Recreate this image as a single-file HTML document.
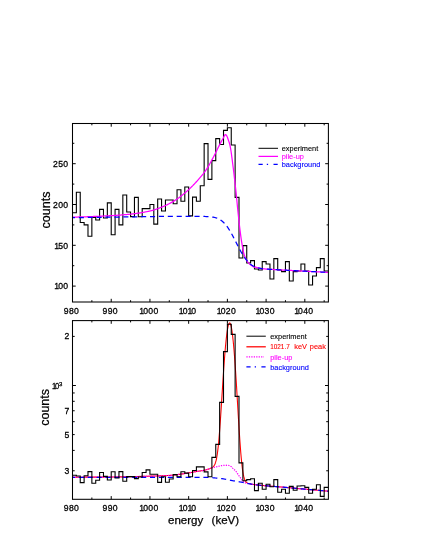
<!DOCTYPE html><html><head><meta charset="utf-8"><style>html,body{margin:0;padding:0;background:#fff}svg{display:block}text{font-family:"Liberation Sans",sans-serif}</style></head><body>
<svg width="425" height="550" viewBox="0 0 425 550">
<rect width="425" height="550" fill="#fff"/>
<defs><clipPath id="ct"><rect x="72.5" y="123.5" width="255.90" height="178.50"/></clipPath><clipPath id="cb"><rect x="72.5" y="320.6" width="255.90" height="178.70"/></clipPath></defs>
<g clip-path="url(#ct)" fill="none">
<path d="M72.50,204.50H76.37V192.26H80.24V222.45H84.12V224.90H87.99V236.32H91.86V217.56H95.73V220.00H99.60V209.40H103.48V217.96H107.35V202.87H111.22V234.69H115.09V209.40H118.96V224.90H122.84V195.03H126.71V212.01H130.58V216.58H134.45V197.40H138.32V216.74H142.20V208.58H146.07V208.58H149.94V204.50H153.81V224.08H157.68V199.03H161.56V211.03H165.43V200.01H169.30V200.01H173.17V203.68H177.04V189.81H180.92V201.24H184.79V187.04H188.66V215.92H192.53V197.16H196.40V201.24H200.28V185.73H204.15V143.63H208.02V179.37H211.89V160.60H215.76V138.65H219.64V144.44H223.51V130.41H227.38V127.80H231.25V144.93H235.12V197.40H239.00V258.03H242.87V245.63H246.74V263.01H250.61V260.64H254.48V268.96H258.36V270.02H262.23V261.62H266.10V264.07H269.97V279.00H273.84V258.60H277.72V270.02H281.59V271.58H285.46V261.62H289.33V281.04H293.20V271.58H297.08V271.00H300.95V264.07H304.82V271.00H308.69V285.04H312.56V275.98H316.44V267.58H320.31V258.60H324.18V271.00H328.40M72.50,212.82H76.37V204.50" stroke="#000" stroke-width="1.1" stroke-linejoin="miter"/>
<path d="M72.50,217.10 L72.93,217.09 L73.35,217.09 L73.78,217.08 L74.21,217.08 L74.64,217.07 L75.06,217.06 L75.49,217.05 L75.92,217.05 L76.34,217.04 L76.77,217.03 L77.20,217.02 L77.63,217.01 L78.05,217.00 L78.48,216.99 L78.91,216.98 L79.34,216.97 L79.76,216.96 L80.19,216.95 L80.62,216.94 L81.04,216.93 L81.47,216.92 L81.90,216.90 L82.33,216.89 L82.75,216.88 L83.18,216.87 L83.61,216.85 L84.03,216.84 L84.46,216.83 L84.89,216.81 L85.32,216.80 L85.74,216.78 L86.17,216.77 L86.60,216.76 L87.03,216.74 L87.45,216.73 L87.88,216.71 L88.31,216.69 L88.73,216.68 L89.16,216.66 L89.59,216.65 L90.02,216.63 L90.44,216.61 L90.87,216.60 L91.30,216.58 L91.72,216.56 L92.15,216.55 L92.58,216.53 L93.01,216.51 L93.43,216.49 L93.86,216.47 L94.29,216.46 L94.72,216.44 L95.14,216.42 L95.57,216.40 L96.00,216.38 L96.42,216.36 L96.85,216.34 L97.28,216.32 L97.71,216.30 L98.13,216.29 L98.56,216.27 L98.99,216.25 L99.41,216.23 L99.84,216.21 L100.27,216.19 L100.70,216.17 L101.12,216.14 L101.55,216.12 L101.98,216.10 L102.40,216.08 L102.83,216.06 L103.26,216.04 L103.69,216.02 L104.11,216.00 L104.54,215.98 L104.97,215.96 L105.40,215.93 L105.82,215.91 L106.25,215.89 L106.68,215.87 L107.10,215.85 L107.53,215.83 L107.96,215.80 L108.39,215.78 L108.81,215.76 L109.24,215.74 L109.67,215.72 L110.09,215.70 L110.52,215.67 L110.95,215.65 L111.38,215.63 L111.80,215.60 L112.23,215.58 L112.66,215.56 L113.09,215.53 L113.51,215.51 L113.94,215.48 L114.37,215.46 L114.79,215.43 L115.22,215.40 L115.65,215.38 L116.08,215.35 L116.50,215.32 L116.93,215.29 L117.36,215.26 L117.78,215.23 L118.21,215.20 L118.64,215.17 L119.07,215.14 L119.49,215.11 L119.92,215.08 L120.35,215.05 L120.77,215.02 L121.20,214.99 L121.63,214.95 L122.06,214.92 L122.48,214.88 L122.91,214.85 L123.34,214.81 L123.77,214.78 L124.19,214.74 L124.62,214.71 L125.05,214.67 L125.47,214.63 L125.90,214.59 L126.33,214.55 L126.76,214.52 L127.18,214.48 L127.61,214.44 L128.04,214.39 L128.46,214.35 L128.89,214.31 L129.32,214.27 L129.75,214.23 L130.17,214.18 L130.60,214.14 L131.03,214.09 L131.46,214.05 L131.88,214.00 L132.31,213.95 L132.74,213.90 L133.16,213.85 L133.59,213.80 L134.02,213.75 L134.45,213.69 L134.87,213.64 L135.30,213.58 L135.73,213.53 L136.15,213.47 L136.58,213.41 L137.01,213.35 L137.44,213.29 L137.86,213.23 L138.29,213.16 L138.72,213.10 L139.15,213.04 L139.57,212.97 L140.00,212.90 L140.43,212.83 L140.85,212.76 L141.28,212.69 L141.71,212.62 L142.14,212.55 L142.56,212.47 L142.99,212.40 L143.42,212.32 L143.84,212.25 L144.27,212.17 L144.70,212.09 L145.13,212.01 L145.55,211.92 L145.98,211.84 L146.41,211.76 L146.83,211.67 L147.26,211.58 L147.69,211.50 L148.12,211.41 L148.54,211.32 L148.97,211.23 L149.40,211.13 L149.83,211.04 L150.25,210.94 L150.68,210.84 L151.11,210.74 L151.53,210.63 L151.96,210.52 L152.39,210.40 L152.82,210.28 L153.24,210.15 L153.67,210.02 L154.10,209.89 L154.52,209.76 L154.95,209.62 L155.38,209.48 L155.81,209.33 L156.23,209.19 L156.66,209.04 L157.09,208.88 L157.52,208.73 L157.94,208.57 L158.37,208.41 L158.80,208.25 L159.22,208.09 L159.65,207.93 L160.08,207.76 L160.51,207.59 L160.93,207.42 L161.36,207.26 L161.79,207.08 L162.21,206.91 L162.64,206.74 L163.07,206.56 L163.50,206.38 L163.92,206.20 L164.35,206.01 L164.78,205.82 L165.21,205.63 L165.63,205.44 L166.06,205.24 L166.49,205.04 L166.91,204.83 L167.34,204.63 L167.77,204.42 L168.20,204.20 L168.62,203.99 L169.05,203.77 L169.48,203.54 L169.90,203.32 L170.33,203.09 L170.76,202.86 L171.19,202.62 L171.61,202.38 L172.04,202.14 L172.47,201.90 L172.89,201.65 L173.32,201.40 L173.75,201.15 L174.18,200.89 L174.60,200.63 L175.03,200.36 L175.46,200.09 L175.89,199.81 L176.31,199.53 L176.74,199.24 L177.17,198.95 L177.59,198.65 L178.02,198.35 L178.45,198.04 L178.88,197.73 L179.30,197.41 L179.73,197.09 L180.16,196.77 L180.58,196.44 L181.01,196.11 L181.44,195.77 L181.87,195.43 L182.29,195.09 L182.72,194.74 L183.15,194.39 L183.58,194.04 L184.00,193.69 L184.43,193.33 L184.86,192.97 L185.28,192.61 L185.71,192.25 L186.14,191.88 L186.57,191.51 L186.99,191.14 L187.42,190.76 L187.85,190.37 L188.27,189.98 L188.70,189.59 L189.13,189.19 L189.56,188.78 L189.98,188.38 L190.41,187.96 L190.84,187.55 L191.26,187.13 L191.69,186.70 L192.12,186.27 L192.55,185.84 L192.97,185.40 L193.40,184.96 L193.83,184.52 L194.26,184.07 L194.68,183.62 L195.11,183.16 L195.54,182.71 L195.96,182.24 L196.39,181.78 L196.82,181.31 L197.25,180.84 L197.67,180.37 L198.10,179.89 L198.53,179.41 L198.95,178.92 L199.38,178.44 L199.81,177.95 L200.24,177.45 L200.66,176.95 L201.09,176.44 L201.52,175.93 L201.95,175.41 L202.37,174.88 L202.80,174.34 L203.23,173.80 L203.65,173.24 L204.08,172.68 L204.51,172.10 L204.94,171.51 L205.36,170.91 L205.79,170.30 L206.22,169.68 L206.64,169.04 L207.07,168.37 L207.50,167.69 L207.93,167.00 L208.35,166.28 L208.78,165.56 L209.21,164.82 L209.64,164.06 L210.06,163.30 L210.49,162.53 L210.92,161.75 L211.34,160.97 L211.77,160.17 L212.20,159.38 L212.63,158.58 L213.05,157.78 L213.48,156.98 L213.91,156.17 L214.33,155.37 L214.76,154.54 L215.19,153.70 L215.62,152.84 L216.04,151.97 L216.47,151.10 L216.90,150.22 L217.32,149.34 L217.75,148.46 L218.18,147.59 L218.61,146.72 L219.03,145.87 L219.46,145.03 L219.89,144.21 L220.32,143.41 L220.74,142.62 L221.17,141.84 L221.60,141.07 L222.02,140.31 L222.45,139.55 L222.88,138.81 L223.31,138.02 L223.73,137.10 L224.16,136.16 L224.59,135.35 L225.01,134.79 L225.44,134.60 L225.87,134.80 L226.30,135.23 L226.72,135.77 L227.15,136.65 L227.58,137.80 L228.01,139.01 L228.43,140.20 L228.86,141.43 L229.29,142.79 L229.71,144.33 L230.14,146.14 L230.57,148.37 L231.00,151.00 L231.42,153.94 L231.85,157.10 L232.28,160.39 L232.70,163.72 L233.13,167.01 L233.56,170.41 L233.99,173.95 L234.41,177.61 L234.84,181.38 L235.27,185.24 L235.69,189.16 L236.12,193.15 L236.55,197.36 L236.98,201.72 L237.40,206.11 L237.83,210.38 L238.26,214.45 L238.69,218.48 L239.11,222.43 L239.54,226.20 L239.97,229.74 L240.39,233.06 L240.82,236.23 L241.25,239.24 L241.68,242.04 L242.10,244.60 L242.53,247.07 L242.96,249.42 L243.38,251.55 L243.81,253.34 L244.24,254.76 L244.67,256.03 L245.09,257.18 L245.52,258.22 L245.95,259.15 L246.38,259.97 L246.80,260.70 L247.23,261.33 L247.66,261.91 L248.08,262.45 L248.51,262.95 L248.94,263.41 L249.37,263.84 L249.79,264.23 L250.22,264.60 L250.65,264.94 L251.07,265.25 L251.50,265.56 L251.93,265.85 L252.36,266.12 L252.78,266.39 L253.21,266.63 L253.64,266.85 L254.07,267.05 L254.49,267.23 L254.92,267.38 L255.35,266.96 L255.77,267.13 L256.20,267.28 L256.63,267.43 L257.06,267.57 L257.48,267.69 L257.91,267.81 L258.34,267.92 L258.76,268.03 L259.19,268.12 L259.62,268.21 L260.05,268.30 L260.47,268.38 L260.90,268.45 L261.33,268.52 L261.75,268.58 L262.18,268.64 L262.61,268.70 L263.04,268.75 L263.46,268.80 L263.89,268.85 L264.32,268.90 L264.75,268.94 L265.17,268.98 L265.60,269.02 L266.03,269.05 L266.45,269.09 L266.88,269.12 L267.31,269.15 L267.74,269.18 L268.16,269.21 L268.59,269.24 L269.02,269.27 L269.44,269.30 L269.87,269.33 L270.30,269.35 L270.73,269.38 L271.15,269.40 L271.58,269.43 L272.01,269.45 L272.44,269.48 L272.86,269.50 L273.29,269.53 L273.72,269.55 L274.14,269.57 L274.57,269.60 L275.00,269.62 L275.43,269.64 L275.85,269.66 L276.28,269.69 L276.71,269.71 L277.13,269.73 L277.56,269.76 L277.99,269.78 L278.42,269.80 L278.84,269.82 L279.27,269.85 L279.70,269.87 L280.13,269.89 L280.55,269.91 L280.98,269.93 L281.41,269.96 L281.83,269.98 L282.26,270.00 L282.69,270.02 L283.12,270.05 L283.54,270.07 L283.97,270.09 L284.40,270.11 L284.82,270.14 L285.25,270.16 L285.68,270.18 L286.11,270.20 L286.53,270.22 L286.96,270.25 L287.39,270.27 L287.81,270.29 L288.24,270.31 L288.67,270.34 L289.10,270.36 L289.52,270.38 L289.95,270.40 L290.38,270.42 L290.81,270.45 L291.23,270.47 L291.66,270.49 L292.09,270.51 L292.51,270.54 L292.94,270.56 L293.37,270.58 L293.80,270.60 L294.22,270.62 L294.65,270.65 L295.08,270.67 L295.50,270.69 L295.93,270.71 L296.36,270.74 L296.79,270.76 L297.21,270.78 L297.64,270.80 L298.07,270.82 L298.50,270.85 L298.92,270.87 L299.35,270.89 L299.78,270.91 L300.20,270.94 L300.63,270.96 L301.06,270.98 L301.49,271.00 L301.91,271.02 L302.34,271.05 L302.77,271.07 L303.19,271.09 L303.62,271.11 L304.05,271.14 L304.48,271.16 L304.90,271.18 L305.33,271.20 L305.76,271.22 L306.18,271.25 L306.61,271.27 L307.04,271.29 L307.47,271.31 L307.89,271.34 L308.32,271.36 L308.75,271.38 L309.18,271.40 L309.60,271.43 L310.03,271.45 L310.46,271.47 L310.88,271.49 L311.31,271.51 L311.74,271.54 L312.17,271.56 L312.59,271.58 L313.02,271.60 L313.45,271.63 L313.87,271.65 L314.30,271.67 L314.73,271.69 L315.16,271.71 L315.58,271.74 L316.01,271.76 L316.44,271.78 L316.87,271.80 L317.29,271.83 L317.72,271.85 L318.15,271.87 L318.57,271.89 L319.00,271.91 L319.43,271.94 L319.86,271.96 L320.28,271.98 L320.71,272.00 L321.14,272.03 L321.56,272.05 L321.99,272.07 L322.42,272.09 L322.85,272.11 L323.27,272.14 L323.70,272.16 L324.13,272.18 L324.56,272.20 L324.98,272.23 L325.41,272.25 L325.84,272.27 L326.26,272.29 L326.69,272.31 L327.12,272.34 L327.55,272.36 L327.97,272.38 L328.40,272.40" stroke="#ff00ff" stroke-width="1.25"/>
<path d="M72.50,217.72 L72.93,217.71 L73.35,217.71 L73.78,217.70 L74.21,217.69 L74.64,217.69 L75.06,217.68 L75.49,217.68 L75.92,217.67 L76.34,217.66 L76.77,217.66 L77.20,217.65 L77.63,217.64 L78.05,217.64 L78.48,217.63 L78.91,217.62 L79.34,217.62 L79.76,217.61 L80.19,217.61 L80.62,217.60 L81.04,217.59 L81.47,217.59 L81.90,217.58 L82.33,217.57 L82.75,217.57 L83.18,217.56 L83.61,217.56 L84.03,217.55 L84.46,217.54 L84.89,217.54 L85.32,217.53 L85.74,217.52 L86.17,217.52 L86.60,217.51 L87.03,217.50 L87.45,217.50 L87.88,217.49 L88.31,217.49 L88.73,217.48 L89.16,217.47 L89.59,217.47 L90.02,217.46 L90.44,217.45 L90.87,217.45 L91.30,217.44 L91.72,217.44 L92.15,217.43 L92.58,217.42 L93.01,217.42 L93.43,217.41 L93.86,217.40 L94.29,217.40 L94.72,217.39 L95.14,217.39 L95.57,217.38 L96.00,217.37 L96.42,217.37 L96.85,217.36 L97.28,217.35 L97.71,217.35 L98.13,217.34 L98.56,217.33 L98.99,217.33 L99.41,217.32 L99.84,217.32 L100.27,217.31 L100.70,217.30 L101.12,217.30 L101.55,217.29 L101.98,217.28 L102.40,217.28 L102.83,217.27 L103.26,217.27 L103.69,217.26 L104.11,217.25 L104.54,217.25 L104.97,217.24 L105.40,217.23 L105.82,217.23 L106.25,217.22 L106.68,217.22 L107.10,217.21 L107.53,217.20 L107.96,217.20 L108.39,217.19 L108.81,217.18 L109.24,217.18 L109.67,217.17 L110.09,217.16 L110.52,217.16 L110.95,217.15 L111.38,217.15 L111.80,217.14 L112.23,217.13 L112.66,217.13 L113.09,217.12 L113.51,217.11 L113.94,217.11 L114.37,217.10 L114.79,217.10 L115.22,217.09 L115.65,217.08 L116.08,217.08 L116.50,217.07 L116.93,217.06 L117.36,217.06 L117.78,217.05 L118.21,217.04 L118.64,217.04 L119.07,217.03 L119.49,217.03 L119.92,217.02 L120.35,217.01 L120.77,217.01 L121.20,217.00 L121.63,216.99 L122.06,216.99 L122.48,216.98 L122.91,216.98 L123.34,216.97 L123.77,216.96 L124.19,216.96 L124.62,216.95 L125.05,216.94 L125.47,216.94 L125.90,216.93 L126.33,216.93 L126.76,216.92 L127.18,216.91 L127.61,216.91 L128.04,216.90 L128.46,216.89 L128.89,216.89 L129.32,216.88 L129.75,216.87 L130.17,216.87 L130.60,216.86 L131.03,216.86 L131.46,216.85 L131.88,216.84 L132.31,216.84 L132.74,216.83 L133.16,216.82 L133.59,216.82 L134.02,216.81 L134.45,216.81 L134.87,216.80 L135.30,216.79 L135.73,216.79 L136.15,216.78 L136.58,216.77 L137.01,216.77 L137.44,216.76 L137.86,216.75 L138.29,216.75 L138.72,216.74 L139.15,216.74 L139.57,216.73 L140.00,216.72 L140.43,216.72 L140.85,216.71 L141.28,216.70 L141.71,216.70 L142.14,216.69 L142.56,216.69 L142.99,216.68 L143.42,216.67 L143.84,216.67 L144.27,216.66 L144.70,216.65 L145.13,216.65 L145.55,216.64 L145.98,216.64 L146.41,216.63 L146.83,216.62 L147.26,216.62 L147.69,216.61 L148.12,216.60 L148.54,216.60 L148.97,216.59 L149.40,216.58 L149.83,216.58 L150.25,216.57 L150.68,216.57 L151.11,216.56 L151.53,216.55 L151.96,216.55 L152.39,216.54 L152.82,216.53 L153.24,216.53 L153.67,216.52 L154.10,216.52 L154.52,216.51 L154.95,216.50 L155.38,216.50 L155.81,216.49 L156.23,216.48 L156.66,216.48 L157.09,216.47 L157.52,216.47 L157.94,216.46 L158.37,216.45 L158.80,216.45 L159.22,216.44 L159.65,216.43 L160.08,216.43 L160.51,216.42 L160.93,216.41 L161.36,216.41 L161.79,216.41 L162.21,216.41 L162.64,216.41 L163.07,216.41 L163.50,216.41 L163.92,216.41 L164.35,216.41 L164.78,216.41 L165.21,216.41 L165.63,216.41 L166.06,216.41 L166.49,216.41 L166.91,216.41 L167.34,216.41 L167.77,216.41 L168.20,216.41 L168.62,216.41 L169.05,216.41 L169.48,216.41 L169.90,216.41 L170.33,216.41 L170.76,216.41 L171.19,216.41 L171.61,216.41 L172.04,216.41 L172.47,216.41 L172.89,216.41 L173.32,216.41 L173.75,216.41 L174.18,216.41 L174.60,216.41 L175.03,216.41 L175.46,216.41 L175.89,216.41 L176.31,216.41 L176.74,216.41 L177.17,216.41 L177.59,216.41 L178.02,216.41 L178.45,216.41 L178.88,216.41 L179.30,216.41 L179.73,216.41 L180.16,216.41 L180.58,216.41 L181.01,216.41 L181.44,216.41 L181.87,216.41 L182.29,216.41 L182.72,216.41 L183.15,216.41 L183.58,216.41 L184.00,216.41 L184.43,216.41 L184.86,216.41 L185.28,216.41 L185.71,216.41 L186.14,216.41 L186.57,216.41 L186.99,216.41 L187.42,216.41 L187.85,216.41 L188.27,216.41 L188.70,216.41 L189.13,216.41 L189.56,216.41 L189.98,216.41 L190.41,216.41 L190.84,216.41 L191.26,216.41 L191.69,216.41 L192.12,216.41 L192.55,216.41 L192.97,216.41 L193.40,216.41 L193.83,216.42 L194.26,216.42 L194.68,216.42 L195.11,216.42 L195.54,216.42 L195.96,216.42 L196.39,216.42 L196.82,216.42 L197.25,216.42 L197.67,216.42 L198.10,216.42 L198.53,216.42 L198.95,216.42 L199.38,216.43 L199.81,216.43 L200.24,216.43 L200.66,216.43 L201.09,216.44 L201.52,216.44 L201.95,216.44 L202.37,216.45 L202.80,216.45 L203.23,216.46 L203.65,216.46 L204.08,216.47 L204.51,216.48 L204.94,216.49 L205.36,216.50 L205.79,216.51 L206.22,216.53 L206.64,216.54 L207.07,216.56 L207.50,216.58 L207.93,216.60 L208.35,216.62 L208.78,216.65 L209.21,216.68 L209.64,216.71 L210.06,216.75 L210.49,216.79 L210.92,216.83 L211.34,216.88 L211.77,216.94 L212.20,217.00 L212.63,217.06 L213.05,217.14 L213.48,217.21 L213.91,217.30 L214.33,217.39 L214.76,217.50 L215.19,217.61 L215.62,217.73 L216.04,217.86 L216.47,218.00 L216.90,218.15 L217.32,218.31 L217.75,218.49 L218.18,218.68 L218.61,218.88 L219.03,219.10 L219.46,219.33 L219.89,219.58 L220.32,219.84 L220.74,220.12 L221.17,220.42 L221.60,220.73 L222.02,221.07 L222.45,221.42 L222.88,221.79 L223.31,222.18 L223.73,222.59 L224.16,223.03 L224.59,223.48 L225.01,223.95 L225.44,224.44 L225.87,224.96 L226.30,225.49 L226.72,226.05 L227.15,226.63 L227.58,227.22 L228.01,227.84 L228.43,228.48 L228.86,229.14 L229.29,229.81 L229.71,230.50 L230.14,231.21 L230.57,231.94 L231.00,232.68 L231.42,233.44 L231.85,234.21 L232.28,235.00 L232.70,235.80 L233.13,236.60 L233.56,237.42 L233.99,238.24 L234.41,239.08 L234.84,239.91 L235.27,240.75 L235.69,241.60 L236.12,242.44 L236.55,243.29 L236.98,244.13 L237.40,244.97 L237.83,245.81 L238.26,246.64 L238.69,247.47 L239.11,248.28 L239.54,249.09 L239.97,249.89 L240.39,250.67 L240.82,251.45 L241.25,252.20 L241.68,252.95 L242.10,253.68 L242.53,254.39 L242.96,255.08 L243.38,255.76 L243.81,256.42 L244.24,257.06 L244.67,257.68 L245.09,258.28 L245.52,258.86 L245.95,259.42 L246.38,259.96 L246.80,260.47 L247.23,260.97 L247.66,261.45 L248.08,261.91 L248.51,262.35 L248.94,262.76 L249.37,263.16 L249.79,263.54 L250.22,263.90 L250.65,264.24 L251.07,264.57 L251.50,264.88 L251.93,265.17 L252.36,265.44 L252.78,265.70 L253.21,265.95 L253.64,266.17 L254.07,266.39 L254.49,266.59 L254.92,266.78 L255.35,266.96 L255.77,267.13 L256.20,267.28 L256.63,267.43 L257.06,267.57 L257.48,267.69 L257.91,267.81 L258.34,267.92 L258.76,268.03 L259.19,268.12 L259.62,268.21 L260.05,268.30 L260.47,268.38 L260.90,268.45 L261.33,268.52 L261.75,268.58 L262.18,268.64 L262.61,268.70 L263.04,268.75 L263.46,268.80 L263.89,268.85 L264.32,268.90 L264.75,268.94 L265.17,268.98 L265.60,269.02 L266.03,269.05 L266.45,269.09 L266.88,269.12 L267.31,269.15 L267.74,269.18 L268.16,269.21 L268.59,269.24 L269.02,269.27 L269.44,269.30 L269.87,269.33 L270.30,269.35 L270.73,269.38 L271.15,269.40 L271.58,269.43 L272.01,269.45 L272.44,269.48 L272.86,269.50 L273.29,269.53 L273.72,269.55 L274.14,269.57 L274.57,269.60 L275.00,269.62 L275.43,269.64 L275.85,269.66 L276.28,269.69 L276.71,269.71 L277.13,269.73 L277.56,269.76 L277.99,269.78 L278.42,269.80 L278.84,269.82 L279.27,269.85 L279.70,269.87 L280.13,269.89 L280.55,269.91 L280.98,269.93 L281.41,269.96 L281.83,269.98 L282.26,270.00 L282.69,270.02 L283.12,270.05 L283.54,270.07 L283.97,270.09 L284.40,270.11 L284.82,270.14 L285.25,270.16 L285.68,270.18 L286.11,270.20 L286.53,270.22 L286.96,270.25 L287.39,270.27 L287.81,270.29 L288.24,270.31 L288.67,270.34 L289.10,270.36 L289.52,270.38 L289.95,270.40 L290.38,270.42 L290.81,270.45 L291.23,270.47 L291.66,270.49 L292.09,270.51 L292.51,270.54 L292.94,270.56 L293.37,270.58 L293.80,270.60 L294.22,270.62 L294.65,270.65 L295.08,270.67 L295.50,270.69 L295.93,270.71 L296.36,270.74 L296.79,270.76 L297.21,270.78 L297.64,270.80 L298.07,270.82 L298.50,270.85 L298.92,270.87 L299.35,270.89 L299.78,270.91 L300.20,270.94 L300.63,270.96 L301.06,270.98 L301.49,271.00 L301.91,271.02 L302.34,271.05 L302.77,271.07 L303.19,271.09 L303.62,271.11 L304.05,271.14 L304.48,271.16 L304.90,271.18 L305.33,271.20 L305.76,271.22 L306.18,271.25 L306.61,271.27 L307.04,271.29 L307.47,271.31 L307.89,271.34 L308.32,271.36 L308.75,271.38 L309.18,271.40 L309.60,271.43 L310.03,271.45 L310.46,271.47 L310.88,271.49 L311.31,271.51 L311.74,271.54 L312.17,271.56 L312.59,271.58 L313.02,271.60 L313.45,271.63 L313.87,271.65 L314.30,271.67 L314.73,271.69 L315.16,271.71 L315.58,271.74 L316.01,271.76 L316.44,271.78 L316.87,271.80 L317.29,271.83 L317.72,271.85 L318.15,271.87 L318.57,271.89 L319.00,271.91 L319.43,271.94 L319.86,271.96 L320.28,271.98 L320.71,272.00 L321.14,272.03 L321.56,272.05 L321.99,272.07 L322.42,272.09 L322.85,272.11 L323.27,272.14 L323.70,272.16 L324.13,272.18 L324.56,272.20 L324.98,272.23 L325.41,272.25 L325.84,272.27 L326.26,272.29 L326.69,272.31 L327.12,272.34 L327.55,272.36 L327.97,272.38 L328.40,272.40" stroke="#0000ff" stroke-width="1.25" stroke-dasharray="5.1,3.8" stroke-dashoffset="2.6"/>
</g>
<rect x="72.5" y="123.5" width="255.90" height="178.50" fill="none" stroke="#000" stroke-width="1.05"/>
<path d="M72.50,123.5v3.2M72.50,302.0v-3.2M91.86,123.5v1.8M91.86,302.0v-1.8M111.22,123.5v3.2M111.22,302.0v-3.2M130.58,123.5v1.8M130.58,302.0v-1.8M149.94,123.5v3.2M149.94,302.0v-3.2M169.30,123.5v1.8M169.30,302.0v-1.8M188.66,123.5v3.2M188.66,302.0v-3.2M208.02,123.5v1.8M208.02,302.0v-1.8M227.38,123.5v3.2M227.38,302.0v-3.2M246.74,123.5v1.8M246.74,302.0v-1.8M266.10,123.5v3.2M266.10,302.0v-3.2M285.46,123.5v1.8M285.46,302.0v-1.8M304.82,123.5v3.2M304.82,302.0v-3.2M324.18,123.5v1.8M324.18,302.0v-1.8M72.5,286.10h3.2M328.4,286.10h-3.2M72.5,265.70h1.8M328.4,265.70h-1.8M72.5,245.30h3.2M328.4,245.30h-3.2M72.5,224.90h1.8M328.4,224.90h-1.8M72.5,204.50h3.2M328.4,204.50h-3.2M72.5,184.10h1.8M328.4,184.10h-1.8M72.5,163.70h3.2M328.4,163.70h-3.2M72.5,143.30h1.8M328.4,143.30h-1.8" stroke="#000" stroke-width="1" fill="none"/>
<path d="M258.5,148.3H278" stroke="#000" stroke-width="1.0" fill="none"/>
<path d="M258.5,156.4H278" stroke="#ff00ff" stroke-width="1.25" fill="none"/>
<path d="M258.5,164.3h4.2m4.1,0h1.3m5.4,0h4.2" stroke="#0000ff" stroke-width="1.25" fill="none"/>
<g clip-path="url(#cb)" fill="none">
<path d="M72.50,477.20 L72.93,477.20 L73.35,477.20 L73.78,477.20 L74.21,477.20 L74.64,477.20 L75.06,477.20 L75.49,477.20 L75.92,477.20 L76.34,477.20 L76.77,477.20 L77.20,477.20 L77.63,477.20 L78.05,477.19 L78.48,477.19 L78.91,477.19 L79.34,477.19 L79.76,477.19 L80.19,477.19 L80.62,477.19 L81.04,477.19 L81.47,477.19 L81.90,477.18 L82.33,477.18 L82.75,477.18 L83.18,477.18 L83.61,477.18 L84.03,477.18 L84.46,477.18 L84.89,477.17 L85.32,477.17 L85.74,477.17 L86.17,477.17 L86.60,477.17 L87.03,477.17 L87.45,477.16 L87.88,477.16 L88.31,477.16 L88.73,477.16 L89.16,477.16 L89.59,477.15 L90.02,477.15 L90.44,477.15 L90.87,477.15 L91.30,477.15 L91.72,477.14 L92.15,477.14 L92.58,477.14 L93.01,477.14 L93.43,477.14 L93.86,477.13 L94.29,477.13 L94.72,477.13 L95.14,477.13 L95.57,477.12 L96.00,477.12 L96.42,477.12 L96.85,477.12 L97.28,477.11 L97.71,477.11 L98.13,477.11 L98.56,477.11 L98.99,477.11 L99.41,477.10 L99.84,477.10 L100.27,477.10 L100.70,477.10 L101.12,477.09 L101.55,477.09 L101.98,477.09 L102.40,477.09 L102.83,477.08 L103.26,477.08 L103.69,477.08 L104.11,477.07 L104.54,477.07 L104.97,477.07 L105.40,477.06 L105.82,477.06 L106.25,477.06 L106.68,477.05 L107.10,477.05 L107.53,477.04 L107.96,477.04 L108.39,477.04 L108.81,477.03 L109.24,477.03 L109.67,477.02 L110.09,477.02 L110.52,477.02 L110.95,477.01 L111.38,477.01 L111.80,477.00 L112.23,477.00 L112.66,476.99 L113.09,476.99 L113.51,476.98 L113.94,476.98 L114.37,476.97 L114.79,476.97 L115.22,476.96 L115.65,476.96 L116.08,476.95 L116.50,476.95 L116.93,476.94 L117.36,476.94 L117.78,476.93 L118.21,476.92 L118.64,476.92 L119.07,476.91 L119.49,476.91 L119.92,476.90 L120.35,476.90 L120.77,476.89 L121.20,476.88 L121.63,476.88 L122.06,476.87 L122.48,476.86 L122.91,476.85 L123.34,476.85 L123.77,476.84 L124.19,476.83 L124.62,476.82 L125.05,476.82 L125.47,476.81 L125.90,476.80 L126.33,476.79 L126.76,476.78 L127.18,476.77 L127.61,476.76 L128.04,476.75 L128.46,476.74 L128.89,476.73 L129.32,476.72 L129.75,476.71 L130.17,476.70 L130.60,476.69 L131.03,476.68 L131.46,476.67 L131.88,476.66 L132.31,476.65 L132.74,476.64 L133.16,476.63 L133.59,476.62 L134.02,476.61 L134.45,476.60 L134.87,476.58 L135.30,476.57 L135.73,476.56 L136.15,476.55 L136.58,476.54 L137.01,476.53 L137.44,476.52 L137.86,476.50 L138.29,476.49 L138.72,476.48 L139.15,476.47 L139.57,476.46 L140.00,476.44 L140.43,476.43 L140.85,476.42 L141.28,476.41 L141.71,476.39 L142.14,476.38 L142.56,476.37 L142.99,476.36 L143.42,476.35 L143.84,476.33 L144.27,476.32 L144.70,476.31 L145.13,476.30 L145.55,476.28 L145.98,476.27 L146.41,476.26 L146.83,476.25 L147.26,476.24 L147.69,476.22 L148.12,476.21 L148.54,476.20 L148.97,476.19 L149.40,476.18 L149.83,476.17 L150.25,476.15 L150.68,476.14 L151.11,476.13 L151.53,476.12 L151.96,476.11 L152.39,476.10 L152.82,476.08 L153.24,476.07 L153.67,476.06 L154.10,476.05 L154.52,476.04 L154.95,476.02 L155.38,476.01 L155.81,476.00 L156.23,475.98 L156.66,475.97 L157.09,475.96 L157.52,475.94 L157.94,475.93 L158.37,475.92 L158.80,475.90 L159.22,475.89 L159.65,475.87 L160.08,475.86 L160.51,475.84 L160.93,475.83 L161.36,475.81 L161.79,475.79 L162.21,475.78 L162.64,475.76 L163.07,475.74 L163.50,475.73 L163.92,475.71 L164.35,475.69 L164.78,475.67 L165.21,475.65 L165.63,475.63 L166.06,475.61 L166.49,475.59 L166.91,475.57 L167.34,475.55 L167.77,475.52 L168.20,475.50 L168.62,475.48 L169.05,475.45 L169.48,475.43 L169.90,475.41 L170.33,475.38 L170.76,475.35 L171.19,475.32 L171.61,475.28 L172.04,475.25 L172.47,475.21 L172.89,475.17 L173.32,475.12 L173.75,475.07 L174.18,475.03 L174.60,474.98 L175.03,474.92 L175.46,474.87 L175.89,474.82 L176.31,474.76 L176.74,474.70 L177.17,474.64 L177.59,474.59 L178.02,474.52 L178.45,474.46 L178.88,474.40 L179.30,474.34 L179.73,474.28 L180.16,474.21 L180.58,474.15 L181.01,474.09 L181.44,474.03 L181.87,473.96 L182.29,473.90 L182.72,473.84 L183.15,473.78 L183.58,473.72 L184.00,473.65 L184.43,473.59 L184.86,473.52 L185.28,473.46 L185.71,473.39 L186.14,473.32 L186.57,473.25 L186.99,473.18 L187.42,473.10 L187.85,473.03 L188.27,472.96 L188.70,472.88 L189.13,472.81 L189.56,472.73 L189.98,472.66 L190.41,472.58 L190.84,472.51 L191.26,472.43 L191.69,472.36 L192.12,472.28 L192.55,472.20 L192.97,472.13 L193.40,472.05 L193.83,471.98 L194.26,471.90 L194.68,471.83 L195.11,471.75 L195.54,471.68 L195.96,471.61 L196.39,471.53 L196.82,471.47 L197.25,471.40 L197.67,471.33 L198.10,471.27 L198.53,471.20 L198.95,471.14 L199.38,471.08 L199.81,471.01 L200.24,470.95 L200.66,470.88 L201.09,470.82 L201.52,470.75 L201.95,470.68 L202.37,470.61 L202.80,470.54 L203.23,470.47 L203.65,470.39 L204.08,470.31 L204.51,470.22 L204.94,470.14 L205.36,470.04 L205.79,469.95 L206.22,469.84 L206.64,469.73 L207.07,469.59 L207.50,469.45 L207.93,469.29 L208.35,469.13 L208.78,468.96 L209.21,468.79 L209.64,468.61 L210.06,468.44 L210.49,468.26 L210.92,468.08 L211.34,467.89 L211.77,467.69 L212.20,467.45 L212.63,467.17 L213.05,466.83 L213.48,466.42 L213.91,465.91 L214.33,465.27 L214.76,464.46 L215.19,463.46 L215.62,462.21 L216.04,460.67 L216.47,458.78 L216.90,456.51 L217.32,453.81 L217.75,450.63 L218.18,446.96 L218.61,442.77 L219.03,438.08 L219.46,432.91 L219.89,427.30 L220.32,421.33 L220.74,415.05 L221.17,408.54 L221.60,401.88 L222.02,395.15 L222.45,388.43 L222.88,381.80 L223.31,375.31 L223.73,369.04 L224.16,363.03 L224.59,357.33 L225.01,351.98 L225.44,347.02 L225.87,342.46 L226.30,338.35 L226.72,334.69 L227.15,331.51 L227.58,328.82 L228.01,326.62 L228.43,324.93 L228.86,323.76 L229.29,323.10 L229.71,322.97 L230.14,323.37 L230.57,324.29 L231.00,325.72 L231.42,327.68 L231.85,330.15 L232.28,333.13 L232.70,336.60 L233.13,340.54 L233.56,344.95 L233.99,349.79 L234.41,355.06 L234.84,360.72 L235.27,366.74 L235.69,373.09 L236.12,379.72 L236.55,386.59 L236.98,393.66 L237.40,400.85 L237.83,408.08 L238.26,415.26 L238.69,422.33 L239.11,429.19 L239.54,435.78 L239.97,442.00 L240.39,447.81 L240.82,453.17 L241.25,458.05 L241.68,462.42 L242.10,466.24 L242.53,469.56 L242.96,472.40 L243.38,474.76 L243.81,476.66 L244.24,478.22 L244.67,479.48 L245.09,480.47 L245.52,481.24 L245.95,481.82 L246.38,482.27 L246.80,482.62 L247.23,482.90 L247.66,483.11 L248.08,483.30 L248.51,483.45 L248.94,483.59 L249.37,483.70 L249.79,483.81 L250.22,483.91 L250.65,484.00 L251.07,484.08 L251.50,484.17 L251.93,484.24 L252.36,484.32 L252.78,484.39 L253.21,484.45 L253.64,484.52 L254.07,484.58 L254.49,484.64 L254.92,484.69 L255.35,484.74 L255.77,484.80 L256.20,484.85 L256.63,484.90 L257.06,484.95 L257.48,484.99 L257.91,485.04 L258.34,485.08 L258.76,485.13 L259.19,485.17 L259.62,485.21 L260.05,485.25 L260.47,485.29 L260.90,485.33 L261.33,485.37 L261.75,485.41 L262.18,485.45 L262.61,485.49 L263.04,485.53 L263.46,485.56 L263.89,485.60 L264.32,485.64 L264.75,485.68 L265.17,485.72 L265.60,485.75 L266.03,485.79 L266.45,485.83 L266.88,485.86 L267.31,485.90 L267.74,485.93 L268.16,485.97 L268.59,486.00 L269.02,486.04 L269.44,486.07 L269.87,486.11 L270.30,486.14 L270.73,486.17 L271.15,486.21 L271.58,486.24 L272.01,486.27 L272.44,486.30 L272.86,486.34 L273.29,486.37 L273.72,486.40 L274.14,486.44 L274.57,486.47 L275.00,486.50 L275.43,486.53 L275.85,486.57 L276.28,486.60 L276.71,486.63 L277.13,486.67 L277.56,486.70 L277.99,486.73 L278.42,486.77 L278.84,486.80 L279.27,486.84 L279.70,486.87 L280.13,486.91 L280.55,486.95 L280.98,486.98 L281.41,487.02 L281.83,487.06 L282.26,487.09 L282.69,487.13 L283.12,487.17 L283.54,487.21 L283.97,487.24 L284.40,487.28 L284.82,487.32 L285.25,487.36 L285.68,487.40 L286.11,487.43 L286.53,487.47 L286.96,487.51 L287.39,487.55 L287.81,487.59 L288.24,487.63 L288.67,487.67 L289.10,487.71 L289.52,487.74 L289.95,487.78 L290.38,487.82 L290.81,487.86 L291.23,487.90 L291.66,487.94 L292.09,487.98 L292.51,488.02 L292.94,488.06 L293.37,488.10 L293.80,488.14 L294.22,488.18 L294.65,488.22 L295.08,488.25 L295.50,488.29 L295.93,488.33 L296.36,488.37 L296.79,488.41 L297.21,488.45 L297.64,488.49 L298.07,488.53 L298.50,488.57 L298.92,488.60 L299.35,488.64 L299.78,488.68 L300.20,488.72 L300.63,488.76 L301.06,488.79 L301.49,488.83 L301.91,488.87 L302.34,488.91 L302.77,488.95 L303.19,488.98 L303.62,489.02 L304.05,489.06 L304.48,489.10 L304.90,489.14 L305.33,489.17 L305.76,489.21 L306.18,489.25 L306.61,489.29 L307.04,489.33 L307.47,489.36 L307.89,489.40 L308.32,489.44 L308.75,489.48 L309.18,489.51 L309.60,489.55 L310.03,489.59 L310.46,489.63 L310.88,489.67 L311.31,489.70 L311.74,489.74 L312.17,489.78 L312.59,489.82 L313.02,489.85 L313.45,489.89 L313.87,489.93 L314.30,489.97 L314.73,490.00 L315.16,490.04 L315.58,490.08 L316.01,490.12 L316.44,490.15 L316.87,490.19 L317.29,490.23 L317.72,490.27 L318.15,490.30 L318.57,490.34 L319.00,490.38 L319.43,490.42 L319.86,490.45 L320.28,490.49 L320.71,490.53 L321.14,490.57 L321.56,490.60 L321.99,490.64 L322.42,490.68 L322.85,490.72 L323.27,490.75 L323.70,490.79 L324.13,490.83 L324.56,490.87 L324.98,490.90 L325.41,490.94 L325.84,490.98 L326.26,491.01 L326.69,491.05 L327.12,491.09 L327.55,491.13 L327.97,491.16 L328.40,491.20" stroke="#ff0000" stroke-width="1.1"/>
<path d="M72.50,477.20 L72.93,477.20 L73.35,477.20 L73.78,477.20 L74.21,477.20 L74.64,477.20 L75.06,477.20 L75.49,477.20 L75.92,477.20 L76.34,477.20 L76.77,477.20 L77.20,477.20 L77.63,477.20 L78.05,477.19 L78.48,477.19 L78.91,477.19 L79.34,477.19 L79.76,477.19 L80.19,477.19 L80.62,477.19 L81.04,477.19 L81.47,477.19 L81.90,477.18 L82.33,477.18 L82.75,477.18 L83.18,477.18 L83.61,477.18 L84.03,477.18 L84.46,477.18 L84.89,477.17 L85.32,477.17 L85.74,477.17 L86.17,477.17 L86.60,477.17 L87.03,477.17 L87.45,477.16 L87.88,477.16 L88.31,477.16 L88.73,477.16 L89.16,477.16 L89.59,477.15 L90.02,477.15 L90.44,477.15 L90.87,477.15 L91.30,477.15 L91.72,477.14 L92.15,477.14 L92.58,477.14 L93.01,477.14 L93.43,477.14 L93.86,477.13 L94.29,477.13 L94.72,477.13 L95.14,477.13 L95.57,477.12 L96.00,477.12 L96.42,477.12 L96.85,477.12 L97.28,477.11 L97.71,477.11 L98.13,477.11 L98.56,477.11 L98.99,477.11 L99.41,477.10 L99.84,477.10 L100.27,477.10 L100.70,477.10 L101.12,477.09 L101.55,477.09 L101.98,477.09 L102.40,477.09 L102.83,477.08 L103.26,477.08 L103.69,477.08 L104.11,477.07 L104.54,477.07 L104.97,477.07 L105.40,477.06 L105.82,477.06 L106.25,477.06 L106.68,477.05 L107.10,477.05 L107.53,477.04 L107.96,477.04 L108.39,477.04 L108.81,477.03 L109.24,477.03 L109.67,477.02 L110.09,477.02 L110.52,477.02 L110.95,477.01 L111.38,477.01 L111.80,477.00 L112.23,477.00 L112.66,476.99 L113.09,476.99 L113.51,476.98 L113.94,476.98 L114.37,476.97 L114.79,476.97 L115.22,476.96 L115.65,476.96 L116.08,476.95 L116.50,476.95 L116.93,476.94 L117.36,476.94 L117.78,476.93 L118.21,476.92 L118.64,476.92 L119.07,476.91 L119.49,476.91 L119.92,476.90 L120.35,476.90 L120.77,476.89 L121.20,476.88 L121.63,476.88 L122.06,476.87 L122.48,476.86 L122.91,476.85 L123.34,476.85 L123.77,476.84 L124.19,476.83 L124.62,476.82 L125.05,476.82 L125.47,476.81 L125.90,476.80 L126.33,476.79 L126.76,476.78 L127.18,476.77 L127.61,476.76 L128.04,476.75 L128.46,476.74 L128.89,476.73 L129.32,476.72 L129.75,476.71 L130.17,476.70 L130.60,476.69 L131.03,476.68 L131.46,476.67 L131.88,476.66 L132.31,476.65 L132.74,476.64 L133.16,476.63 L133.59,476.62 L134.02,476.61 L134.45,476.60 L134.87,476.58 L135.30,476.57 L135.73,476.56 L136.15,476.55 L136.58,476.54 L137.01,476.53 L137.44,476.52 L137.86,476.50 L138.29,476.49 L138.72,476.48 L139.15,476.47 L139.57,476.46 L140.00,476.44 L140.43,476.43 L140.85,476.42 L141.28,476.41 L141.71,476.39 L142.14,476.38 L142.56,476.37 L142.99,476.36 L143.42,476.35 L143.84,476.33 L144.27,476.32 L144.70,476.31 L145.13,476.30 L145.55,476.28 L145.98,476.27 L146.41,476.26 L146.83,476.25 L147.26,476.24 L147.69,476.22 L148.12,476.21 L148.54,476.20 L148.97,476.19 L149.40,476.18 L149.83,476.17 L150.25,476.15 L150.68,476.14 L151.11,476.13 L151.53,476.12 L151.96,476.11 L152.39,476.10 L152.82,476.08 L153.24,476.07 L153.67,476.06 L154.10,476.05 L154.52,476.04 L154.95,476.02 L155.38,476.01 L155.81,476.00 L156.23,475.98 L156.66,475.97 L157.09,475.96 L157.52,475.94 L157.94,475.93 L158.37,475.92 L158.80,475.90 L159.22,475.89 L159.65,475.87 L160.08,475.86 L160.51,475.84 L160.93,475.83 L161.36,475.81 L161.79,475.79 L162.21,475.78 L162.64,475.76 L163.07,475.74 L163.50,475.73 L163.92,475.71 L164.35,475.69 L164.78,475.67 L165.21,475.65 L165.63,475.63 L166.06,475.61 L166.49,475.59 L166.91,475.57 L167.34,475.55 L167.77,475.52 L168.20,475.50 L168.62,475.48 L169.05,475.45 L169.48,475.43 L169.90,475.41 L170.33,475.38 L170.76,475.35 L171.19,475.32 L171.61,475.28 L172.04,475.25 L172.47,475.21 L172.89,475.17 L173.32,475.12 L173.75,475.07 L174.18,475.03 L174.60,474.98 L175.03,474.92 L175.46,474.87 L175.89,474.82 L176.31,474.76 L176.74,474.70 L177.17,474.64 L177.59,474.59 L178.02,474.52 L178.45,474.46 L178.88,474.40 L179.30,474.34 L179.73,474.28 L180.16,474.21 L180.58,474.15 L181.01,474.09 L181.44,474.03 L181.87,473.96 L182.29,473.90 L182.72,473.84 L183.15,473.78 L183.58,473.72 L184.00,473.65 L184.43,473.59 L184.86,473.52 L185.28,473.46 L185.71,473.39 L186.14,473.32 L186.57,473.25 L186.99,473.18 L187.42,473.10 L187.85,473.03 L188.27,472.96 L188.70,472.88 L189.13,472.81 L189.56,472.73 L189.98,472.66 L190.41,472.58 L190.84,472.51 L191.26,472.43 L191.69,472.36 L192.12,472.28 L192.55,472.20 L192.97,472.13 L193.40,472.05 L193.83,471.98 L194.26,471.90 L194.68,471.83 L195.11,471.75 L195.54,471.68 L195.96,471.61 L196.39,471.53 L196.82,471.47 L197.25,471.40 L197.67,471.33 L198.10,471.27 L198.53,471.20 L198.95,471.14 L199.38,471.08 L199.81,471.01 L200.24,470.95 L200.66,470.88 L201.09,470.82 L201.52,470.75 L201.95,470.68 L202.37,470.61 L202.80,470.54 L203.23,470.47 L203.65,470.39 L204.08,470.31 L204.51,470.22 L204.94,470.14 L205.36,470.04 L205.79,469.95 L206.22,469.85 L206.64,469.73 L207.07,469.60 L207.50,469.45 L207.93,469.30 L208.35,469.14 L208.78,468.98 L209.21,468.82 L209.64,468.66 L210.06,468.50 L210.49,468.36 L210.92,468.22 L211.34,468.10 L211.77,467.98 L212.20,467.87 L212.63,467.76 L213.05,467.65 L213.48,467.54 L213.91,467.44 L214.33,467.33 L214.76,467.23 L215.19,467.13 L215.62,467.02 L216.04,466.92 L216.47,466.81 L216.90,466.71 L217.32,466.61 L217.75,466.51 L218.18,466.40 L218.61,466.30 L219.03,466.19 L219.46,466.08 L219.89,465.97 L220.32,465.87 L220.74,465.79 L221.17,465.72 L221.60,465.65 L222.02,465.58 L222.45,465.52 L222.88,465.47 L223.31,465.43 L223.73,465.39 L224.16,465.36 L224.59,465.33 L225.01,465.30 L225.44,465.27 L225.87,465.26 L226.30,465.25 L226.72,465.26 L227.15,465.28 L227.58,465.31 L228.01,465.36 L228.43,465.42 L228.86,465.49 L229.29,465.60 L229.71,465.77 L230.14,465.99 L230.57,466.25 L231.00,466.53 L231.42,466.84 L231.85,467.23 L232.28,467.66 L232.70,468.11 L233.13,468.53 L233.56,468.94 L233.99,469.36 L234.41,469.80 L234.84,470.24 L235.27,470.70 L235.69,471.16 L236.12,471.66 L236.55,472.20 L236.98,472.81 L237.40,473.46 L237.83,474.10 L238.26,474.72 L238.69,475.33 L239.11,475.94 L239.54,476.53 L239.97,477.12 L240.39,477.71 L240.82,478.32 L241.25,478.95 L241.68,479.57 L242.10,480.13 L242.53,480.67 L242.96,481.18 L243.38,481.60 L243.81,481.94 L244.24,482.24 L244.67,482.51 L245.09,482.73 L245.52,482.91 L245.95,483.04 L246.38,483.16 L246.80,483.26 L247.23,483.35 L247.66,483.43 L248.08,483.52 L248.51,483.60 L248.94,483.69 L249.37,483.78 L249.79,483.86 L250.22,483.94 L250.65,484.02 L251.07,484.10 L251.50,484.17 L251.93,484.25 L252.36,484.32 L252.78,484.39 L253.21,484.45 L253.64,484.52 L254.07,484.58 L254.49,484.64 L254.92,484.69 L255.35,484.74 L255.77,484.80 L256.20,484.85 L256.63,484.90 L257.06,484.95 L257.48,484.99 L257.91,485.04 L258.34,485.08 L258.76,485.13 L259.19,485.17 L259.62,485.21 L260.05,485.25 L260.47,485.29 L260.90,485.33 L261.33,485.37 L261.75,485.41 L262.18,485.45 L262.61,485.49 L263.04,485.53 L263.46,485.56 L263.89,485.60 L264.32,485.64 L264.75,485.68 L265.17,485.72 L265.60,485.75 L266.03,485.79 L266.45,485.83 L266.88,485.86 L267.31,485.90 L267.74,485.93 L268.16,485.97 L268.59,486.00 L269.02,486.04 L269.44,486.07 L269.87,486.11 L270.30,486.14 L270.73,486.17 L271.15,486.21 L271.58,486.24 L272.01,486.27 L272.44,486.30 L272.86,486.34 L273.29,486.37 L273.72,486.40 L274.14,486.44 L274.57,486.47 L275.00,486.50 L275.43,486.53 L275.85,486.57 L276.28,486.60 L276.71,486.63 L277.13,486.67 L277.56,486.70 L277.99,486.73 L278.42,486.77 L278.84,486.80 L279.27,486.84 L279.70,486.87 L280.13,486.91 L280.55,486.95 L280.98,486.98 L281.41,487.02 L281.83,487.06 L282.26,487.09 L282.69,487.13 L283.12,487.17 L283.54,487.21 L283.97,487.24 L284.40,487.28 L284.82,487.32 L285.25,487.36 L285.68,487.40 L286.11,487.43 L286.53,487.47 L286.96,487.51 L287.39,487.55 L287.81,487.59 L288.24,487.63 L288.67,487.67 L289.10,487.71 L289.52,487.74 L289.95,487.78 L290.38,487.82 L290.81,487.86 L291.23,487.90 L291.66,487.94 L292.09,487.98 L292.51,488.02 L292.94,488.06 L293.37,488.10 L293.80,488.14 L294.22,488.18 L294.65,488.22 L295.08,488.25 L295.50,488.29 L295.93,488.33 L296.36,488.37 L296.79,488.41 L297.21,488.45 L297.64,488.49 L298.07,488.53 L298.50,488.57 L298.92,488.60 L299.35,488.64 L299.78,488.68 L300.20,488.72 L300.63,488.76 L301.06,488.79 L301.49,488.83 L301.91,488.87 L302.34,488.91 L302.77,488.95 L303.19,488.98 L303.62,489.02 L304.05,489.06 L304.48,489.10 L304.90,489.14 L305.33,489.17 L305.76,489.21 L306.18,489.25 L306.61,489.29 L307.04,489.33 L307.47,489.36 L307.89,489.40 L308.32,489.44 L308.75,489.48 L309.18,489.51 L309.60,489.55 L310.03,489.59 L310.46,489.63 L310.88,489.67 L311.31,489.70 L311.74,489.74 L312.17,489.78 L312.59,489.82 L313.02,489.85 L313.45,489.89 L313.87,489.93 L314.30,489.97 L314.73,490.00 L315.16,490.04 L315.58,490.08 L316.01,490.12 L316.44,490.15 L316.87,490.19 L317.29,490.23 L317.72,490.27 L318.15,490.30 L318.57,490.34 L319.00,490.38 L319.43,490.42 L319.86,490.45 L320.28,490.49 L320.71,490.53 L321.14,490.57 L321.56,490.60 L321.99,490.64 L322.42,490.68 L322.85,490.72 L323.27,490.75 L323.70,490.79 L324.13,490.83 L324.56,490.87 L324.98,490.90 L325.41,490.94 L325.84,490.98 L326.26,491.01 L326.69,491.05 L327.12,491.09 L327.55,491.13 L327.97,491.16 L328.40,491.20" stroke="#ff00ff" stroke-width="1.25" stroke-dasharray="1.25,1.2"/>
<path d="M72.50,477.30 L72.93,477.30 L73.35,477.30 L73.78,477.30 L74.21,477.30 L74.64,477.30 L75.06,477.30 L75.49,477.30 L75.92,477.30 L76.34,477.30 L76.77,477.30 L77.20,477.30 L77.63,477.30 L78.05,477.30 L78.48,477.30 L78.91,477.30 L79.34,477.30 L79.76,477.30 L80.19,477.30 L80.62,477.30 L81.04,477.30 L81.47,477.30 L81.90,477.30 L82.33,477.30 L82.75,477.30 L83.18,477.30 L83.61,477.30 L84.03,477.30 L84.46,477.30 L84.89,477.30 L85.32,477.30 L85.74,477.30 L86.17,477.30 L86.60,477.30 L87.03,477.30 L87.45,477.30 L87.88,477.30 L88.31,477.30 L88.73,477.30 L89.16,477.30 L89.59,477.30 L90.02,477.30 L90.44,477.30 L90.87,477.30 L91.30,477.30 L91.72,477.30 L92.15,477.30 L92.58,477.30 L93.01,477.30 L93.43,477.30 L93.86,477.30 L94.29,477.30 L94.72,477.30 L95.14,477.30 L95.57,477.30 L96.00,477.30 L96.42,477.30 L96.85,477.30 L97.28,477.30 L97.71,477.30 L98.13,477.30 L98.56,477.30 L98.99,477.30 L99.41,477.30 L99.84,477.30 L100.27,477.30 L100.70,477.30 L101.12,477.30 L101.55,477.30 L101.98,477.30 L102.40,477.30 L102.83,477.30 L103.26,477.30 L103.69,477.30 L104.11,477.30 L104.54,477.30 L104.97,477.30 L105.40,477.30 L105.82,477.30 L106.25,477.30 L106.68,477.30 L107.10,477.30 L107.53,477.30 L107.96,477.30 L108.39,477.30 L108.81,477.30 L109.24,477.30 L109.67,477.30 L110.09,477.30 L110.52,477.30 L110.95,477.30 L111.38,477.30 L111.80,477.30 L112.23,477.30 L112.66,477.30 L113.09,477.30 L113.51,477.30 L113.94,477.30 L114.37,477.30 L114.79,477.30 L115.22,477.30 L115.65,477.30 L116.08,477.30 L116.50,477.30 L116.93,477.30 L117.36,477.30 L117.78,477.30 L118.21,477.30 L118.64,477.30 L119.07,477.30 L119.49,477.30 L119.92,477.30 L120.35,477.30 L120.77,477.30 L121.20,477.30 L121.63,477.30 L122.06,477.30 L122.48,477.30 L122.91,477.30 L123.34,477.30 L123.77,477.30 L124.19,477.30 L124.62,477.30 L125.05,477.30 L125.47,477.30 L125.90,477.30 L126.33,477.30 L126.76,477.30 L127.18,477.31 L127.61,477.31 L128.04,477.31 L128.46,477.31 L128.89,477.31 L129.32,477.31 L129.75,477.31 L130.17,477.31 L130.60,477.31 L131.03,477.31 L131.46,477.31 L131.88,477.31 L132.31,477.32 L132.74,477.32 L133.16,477.32 L133.59,477.32 L134.02,477.32 L134.45,477.32 L134.87,477.32 L135.30,477.32 L135.73,477.32 L136.15,477.32 L136.58,477.33 L137.01,477.33 L137.44,477.33 L137.86,477.33 L138.29,477.33 L138.72,477.33 L139.15,477.33 L139.57,477.33 L140.00,477.34 L140.43,477.34 L140.85,477.34 L141.28,477.34 L141.71,477.34 L142.14,477.34 L142.56,477.34 L142.99,477.34 L143.42,477.35 L143.84,477.35 L144.27,477.35 L144.70,477.35 L145.13,477.35 L145.55,477.35 L145.98,477.35 L146.41,477.35 L146.83,477.36 L147.26,477.36 L147.69,477.36 L148.12,477.36 L148.54,477.36 L148.97,477.36 L149.40,477.36 L149.83,477.36 L150.25,477.37 L150.68,477.37 L151.11,477.37 L151.53,477.37 L151.96,477.37 L152.39,477.37 L152.82,477.37 L153.24,477.37 L153.67,477.37 L154.10,477.38 L154.52,477.38 L154.95,477.38 L155.38,477.38 L155.81,477.38 L156.23,477.38 L156.66,477.38 L157.09,477.38 L157.52,477.38 L157.94,477.39 L158.37,477.39 L158.80,477.39 L159.22,477.39 L159.65,477.39 L160.08,477.39 L160.51,477.39 L160.93,477.39 L161.36,477.39 L161.79,477.39 L162.21,477.39 L162.64,477.39 L163.07,477.39 L163.50,477.40 L163.92,477.40 L164.35,477.40 L164.78,477.40 L165.21,477.40 L165.63,477.40 L166.06,477.40 L166.49,477.40 L166.91,477.40 L167.34,477.40 L167.77,477.40 L168.20,477.40 L168.62,477.40 L169.05,477.40 L169.48,477.40 L169.90,477.40 L170.33,477.40 L170.76,477.40 L171.19,477.40 L171.61,477.40 L172.04,477.40 L172.47,477.40 L172.89,477.40 L173.32,477.40 L173.75,477.39 L174.18,477.39 L174.60,477.39 L175.03,477.39 L175.46,477.39 L175.89,477.39 L176.31,477.38 L176.74,477.38 L177.17,477.38 L177.59,477.38 L178.02,477.38 L178.45,477.37 L178.88,477.37 L179.30,477.37 L179.73,477.37 L180.16,477.36 L180.58,477.36 L181.01,477.36 L181.44,477.36 L181.87,477.35 L182.29,477.35 L182.72,477.35 L183.15,477.35 L183.58,477.34 L184.00,477.34 L184.43,477.34 L184.86,477.34 L185.28,477.33 L185.71,477.33 L186.14,477.33 L186.57,477.33 L186.99,477.32 L187.42,477.32 L187.85,477.32 L188.27,477.32 L188.70,477.32 L189.13,477.31 L189.56,477.31 L189.98,477.31 L190.41,477.31 L190.84,477.31 L191.26,477.31 L191.69,477.30 L192.12,477.30 L192.55,477.30 L192.97,477.30 L193.40,477.30 L193.83,477.30 L194.26,477.30 L194.68,477.30 L195.11,477.30 L195.54,477.30 L195.96,477.30 L196.39,477.30 L196.82,477.30 L197.25,477.31 L197.67,477.31 L198.10,477.31 L198.53,477.32 L198.95,477.32 L199.38,477.32 L199.81,477.33 L200.24,477.33 L200.66,477.34 L201.09,477.34 L201.52,477.35 L201.95,477.35 L202.37,477.36 L202.80,477.37 L203.23,477.37 L203.65,477.38 L204.08,477.39 L204.51,477.39 L204.94,477.40 L205.36,477.41 L205.79,477.41 L206.22,477.42 L206.64,477.43 L207.07,477.45 L207.50,477.46 L207.93,477.47 L208.35,477.49 L208.78,477.50 L209.21,477.52 L209.64,477.54 L210.06,477.56 L210.49,477.58 L210.92,477.60 L211.34,477.62 L211.77,477.64 L212.20,477.68 L212.63,477.71 L213.05,477.75 L213.48,477.79 L213.91,477.83 L214.33,477.87 L214.76,477.91 L215.19,477.96 L215.62,478.00 L216.04,478.05 L216.47,478.09 L216.90,478.13 L217.32,478.17 L217.75,478.21 L218.18,478.25 L218.61,478.28 L219.03,478.32 L219.46,478.35 L219.89,478.39 L220.32,478.43 L220.74,478.47 L221.17,478.52 L221.60,478.57 L222.02,478.63 L222.45,478.70 L222.88,478.77 L223.31,478.84 L223.73,478.92 L224.16,479.00 L224.59,479.08 L225.01,479.17 L225.44,479.26 L225.87,479.35 L226.30,479.44 L226.72,479.53 L227.15,479.62 L227.58,479.71 L228.01,479.80 L228.43,479.89 L228.86,479.98 L229.29,480.07 L229.71,480.15 L230.14,480.23 L230.57,480.31 L231.00,480.39 L231.42,480.46 L231.85,480.54 L232.28,480.61 L232.70,480.69 L233.13,480.76 L233.56,480.83 L233.99,480.91 L234.41,480.98 L234.84,481.05 L235.27,481.12 L235.69,481.19 L236.12,481.26 L236.55,481.33 L236.98,481.41 L237.40,481.48 L237.83,481.55 L238.26,481.62 L238.69,481.70 L239.11,481.77 L239.54,481.85 L239.97,481.92 L240.39,482.00 L240.82,482.07 L241.25,482.15 L241.68,482.23 L242.10,482.31 L242.53,482.40 L242.96,482.48 L243.38,482.57 L243.81,482.66 L244.24,482.75 L244.67,482.83 L245.09,482.92 L245.52,483.01 L245.95,483.10 L246.38,483.18 L246.80,483.27 L247.23,483.35 L247.66,483.44 L248.08,483.52 L248.51,483.60 L248.94,483.67 L249.37,483.76 L249.79,483.84 L250.22,483.92 L250.65,483.99 L251.07,484.07 L251.50,484.15 L251.93,484.23 L252.36,484.30 L252.78,484.37 L253.21,484.44 L253.64,484.51 L254.07,484.57 L254.49,484.63 L254.92,484.69 L255.35,484.74 L255.77,484.80 L256.20,484.85 L256.63,484.90 L257.06,484.95 L257.48,484.99 L257.91,485.04 L258.34,485.08 L258.76,485.13 L259.19,485.17 L259.62,485.21 L260.05,485.25 L260.47,485.29 L260.90,485.33 L261.33,485.37 L261.75,485.41 L262.18,485.45 L262.61,485.49 L263.04,485.53 L263.46,485.56 L263.89,485.60 L264.32,485.64 L264.75,485.68 L265.17,485.72 L265.60,485.75 L266.03,485.79 L266.45,485.83 L266.88,485.86 L267.31,485.90 L267.74,485.93 L268.16,485.97 L268.59,486.00 L269.02,486.04 L269.44,486.07 L269.87,486.11 L270.30,486.14 L270.73,486.17 L271.15,486.21 L271.58,486.24 L272.01,486.27 L272.44,486.30 L272.86,486.34 L273.29,486.37 L273.72,486.40 L274.14,486.44 L274.57,486.47 L275.00,486.50 L275.43,486.53 L275.85,486.57 L276.28,486.60 L276.71,486.63 L277.13,486.67 L277.56,486.70 L277.99,486.73 L278.42,486.77 L278.84,486.80 L279.27,486.84 L279.70,486.87 L280.13,486.91 L280.55,486.95 L280.98,486.98 L281.41,487.02 L281.83,487.06 L282.26,487.09 L282.69,487.13 L283.12,487.17 L283.54,487.21 L283.97,487.24 L284.40,487.28 L284.82,487.32 L285.25,487.36 L285.68,487.40 L286.11,487.43 L286.53,487.47 L286.96,487.51 L287.39,487.55 L287.81,487.59 L288.24,487.63 L288.67,487.67 L289.10,487.71 L289.52,487.74 L289.95,487.78 L290.38,487.82 L290.81,487.86 L291.23,487.90 L291.66,487.94 L292.09,487.98 L292.51,488.02 L292.94,488.06 L293.37,488.10 L293.80,488.14 L294.22,488.18 L294.65,488.22 L295.08,488.25 L295.50,488.29 L295.93,488.33 L296.36,488.37 L296.79,488.41 L297.21,488.45 L297.64,488.49 L298.07,488.53 L298.50,488.57 L298.92,488.60 L299.35,488.64 L299.78,488.68 L300.20,488.72 L300.63,488.76 L301.06,488.79 L301.49,488.83 L301.91,488.87 L302.34,488.91 L302.77,488.95 L303.19,488.98 L303.62,489.02 L304.05,489.06 L304.48,489.10 L304.90,489.14 L305.33,489.17 L305.76,489.21 L306.18,489.25 L306.61,489.29 L307.04,489.33 L307.47,489.36 L307.89,489.40 L308.32,489.44 L308.75,489.48 L309.18,489.51 L309.60,489.55 L310.03,489.59 L310.46,489.63 L310.88,489.67 L311.31,489.70 L311.74,489.74 L312.17,489.78 L312.59,489.82 L313.02,489.85 L313.45,489.89 L313.87,489.93 L314.30,489.97 L314.73,490.00 L315.16,490.04 L315.58,490.08 L316.01,490.12 L316.44,490.15 L316.87,490.19 L317.29,490.23 L317.72,490.27 L318.15,490.30 L318.57,490.34 L319.00,490.38 L319.43,490.42 L319.86,490.45 L320.28,490.49 L320.71,490.53 L321.14,490.57 L321.56,490.60 L321.99,490.64 L322.42,490.68 L322.85,490.72 L323.27,490.75 L323.70,490.79 L324.13,490.83 L324.56,490.87 L324.98,490.90 L325.41,490.94 L325.84,490.98 L326.26,491.01 L326.69,491.05 L327.12,491.09 L327.55,491.13 L327.97,491.16 L328.40,491.20" stroke="#0000ff" stroke-width="1.25" stroke-dasharray="5.1,3.8" stroke-dashoffset="2.6"/>
<path d="M72.50,475.30H76.37V476.00H80.24V482.60H84.12V475.70H87.99V471.60H91.86V483.20H95.73V480.20H99.60V472.50H103.48V476.40H107.35V480.00H111.22V471.80H115.09V478.00H118.96V471.60H122.84V481.30H126.71V476.60H130.58V476.60H134.45V478.60H138.32V477.00H142.20V472.50H146.07V469.90H149.94V474.20H153.81V474.20H157.68V482.40H161.56V476.70H165.43V482.20H169.30V479.00H173.17V474.60H177.04V476.70H180.92V471.80H184.79V473.10H188.66V476.70H192.53V470.50H196.40V466.90H200.28V466.90H204.15V471.90H208.02V476.70H211.89V457.40H215.76V444.40H219.64V402.40H223.51V351.60H227.38V324.30H231.25V334.40H235.12V396.40H239.00V462.90H242.87V480.80H246.74V479.60H250.61V478.80H254.48V490.60H258.36V483.30H262.23V489.20H266.10V484.20H269.97V486.80H273.84V479.60H277.72V492.30H281.59V489.30H285.46V493.20H289.33V486.40H293.20V490.20H297.08V486.00H300.95V485.70H304.82V487.40H308.69V493.20H312.56V489.30H316.44V484.80H320.31V496.40H324.18V487.40H328.40" stroke="#000" stroke-width="1.1" stroke-linejoin="miter"/>
</g>
<rect x="72.5" y="320.6" width="255.90" height="178.70" fill="none" stroke="#000" stroke-width="1.05"/>
<path d="M72.50,320.6v3.2M72.50,499.3v-3.2M91.86,320.6v1.8M91.86,499.3v-1.8M111.22,320.6v3.2M111.22,499.3v-3.2M130.58,320.6v1.8M130.58,499.3v-1.8M149.94,320.6v3.2M149.94,499.3v-3.2M169.30,320.6v1.8M169.30,499.3v-1.8M188.66,320.6v3.2M188.66,499.3v-3.2M208.02,320.6v1.8M208.02,499.3v-1.8M227.38,320.6v3.2M227.38,499.3v-3.2M246.74,320.6v1.8M246.74,499.3v-1.8M266.10,320.6v3.2M266.10,499.3v-3.2M285.46,320.6v1.8M285.46,499.3v-1.8M304.82,320.6v3.2M304.82,499.3v-3.2M324.18,320.6v1.8M324.18,499.3v-1.8M72.5,470.78h2.2M328.4,470.78h-2.2M72.5,450.40h2.2M328.4,450.40h-2.2M72.5,434.60h2.2M328.4,434.60h-2.2M72.5,421.68h2.2M328.4,421.68h-2.2M72.5,410.76h2.2M328.4,410.76h-2.2M72.5,401.31h2.2M328.4,401.31h-2.2M72.5,392.96h2.2M328.4,392.96h-2.2M72.5,385.50h3.4M328.4,385.50h-3.4M72.5,336.40h2.2M328.4,336.40h-2.2" stroke="#000" stroke-width="1" fill="none"/>
<path d="M246.4,336.2H265.8" stroke="#000" stroke-width="1.0" fill="none"/>
<path d="M246.4,346.8H265.8" stroke="#ff0000" stroke-width="1.25" fill="none"/>
<path d="M246.4,356.8H264" stroke="#ff00ff" stroke-width="1.25" stroke-dasharray="1.25,1.2" fill="none"/>
<path d="M246.4,366.9h4.2m4.1,0h1.3m5.4,0h4.2" stroke="#0000ff" stroke-width="1.25" fill="none"/>
<g style="will-change:transform;mix-blend-mode:multiply">
<text transform="translate(68.50,289.30) scale(0.92,1)" font-size="9.4" text-anchor="end" style="fill:#000;stroke:#000;stroke-width:0.3px;letter-spacing:0.35px">1<tspan dx="-1.31">0</tspan>0</text>
<text transform="translate(68.50,248.50) scale(0.92,1)" font-size="9.4" text-anchor="end" style="fill:#000;stroke:#000;stroke-width:0.3px;letter-spacing:0.35px">1<tspan dx="-1.31">5</tspan>0</text>
<text transform="translate(68.50,207.70) scale(0.92,1)" font-size="9.4" text-anchor="end" style="fill:#000;stroke:#000;stroke-width:0.3px;letter-spacing:0.35px">200</text>
<text transform="translate(68.50,166.90) scale(0.92,1)" font-size="9.4" text-anchor="end" style="fill:#000;stroke:#000;stroke-width:0.3px;letter-spacing:0.35px">250</text>
<text transform="translate(71.50,313.60) scale(0.92,1)" font-size="9.4" text-anchor="middle" style="fill:#000;stroke:#000;stroke-width:0.3px;letter-spacing:0.35px">980</text>
<text transform="translate(110.22,313.60) scale(0.92,1)" font-size="9.4" text-anchor="middle" style="fill:#000;stroke:#000;stroke-width:0.3px;letter-spacing:0.35px">990</text>
<text transform="translate(148.94,313.60) scale(0.92,1)" font-size="9.4" text-anchor="middle" style="fill:#000;stroke:#000;stroke-width:0.3px;letter-spacing:0.35px">1<tspan dx="-1.31">0</tspan>00</text>
<text transform="translate(187.66,313.60) scale(0.92,1)" font-size="9.4" text-anchor="middle" style="fill:#000;stroke:#000;stroke-width:0.3px;letter-spacing:0.35px">1<tspan dx="-1.31">0</tspan><tspan dx="-0.54">1</tspan><tspan dx="-1.31">0</tspan></text>
<text transform="translate(226.38,313.60) scale(0.92,1)" font-size="9.4" text-anchor="middle" style="fill:#000;stroke:#000;stroke-width:0.3px;letter-spacing:0.35px">1<tspan dx="-1.31">0</tspan>20</text>
<text transform="translate(265.10,313.60) scale(0.92,1)" font-size="9.4" text-anchor="middle" style="fill:#000;stroke:#000;stroke-width:0.3px;letter-spacing:0.35px">1<tspan dx="-1.31">0</tspan>30</text>
<text transform="translate(303.82,313.60) scale(0.92,1)" font-size="9.4" text-anchor="middle" style="fill:#000;stroke:#000;stroke-width:0.3px;letter-spacing:0.35px">1<tspan dx="-1.31">0</tspan>40</text>
<text transform="translate(50.20,210.00) rotate(-90)" font-size="12.5" text-anchor="middle" style="fill:#000;stroke:#000;stroke-width:0.25px">counts</text>
<text transform="translate(281.70,150.70) scale(0.95,1)" font-size="7.8" text-anchor="start" style="fill:#000;stroke:#000;stroke-width:0.12px">experiment</text>
<text transform="translate(281.70,158.80) scale(0.95,1)" font-size="7.8" text-anchor="start" style="fill:#ff00ff;stroke:#ff00ff;stroke-width:0.12px">pile-up</text>
<text transform="translate(281.70,166.70) scale(0.95,1)" font-size="7.8" text-anchor="start" style="fill:#0000ff;stroke:#0000ff;stroke-width:0.12px">background</text>
<text transform="translate(69.30,339.40) scale(0.92,1)" font-size="9.4" text-anchor="end" style="fill:#000;stroke:#000;stroke-width:0.3px">2</text>
<text transform="translate(69.30,413.76) scale(0.92,1)" font-size="9.4" text-anchor="end" style="fill:#000;stroke:#000;stroke-width:0.3px">7</text>
<text transform="translate(69.30,437.60) scale(0.92,1)" font-size="9.4" text-anchor="end" style="fill:#000;stroke:#000;stroke-width:0.3px">5</text>
<text transform="translate(69.30,473.78) scale(0.92,1)" font-size="9.4" text-anchor="end" style="fill:#000;stroke:#000;stroke-width:0.3px">3</text>
<text transform="translate(52.00,389.10) scale(0.82,1)" font-size="9.4" text-anchor="start" style="fill:#000;stroke:#000;stroke-width:0.3px">1<tspan dx="-1.47">0</tspan></text>
<text transform="translate(58.90,385.70)" font-size="6" text-anchor="start" style="fill:#000;stroke:#000;stroke-width:0.25px">3</text>
<text transform="translate(71.50,510.50) scale(0.92,1)" font-size="9.4" text-anchor="middle" style="fill:#000;stroke:#000;stroke-width:0.3px;letter-spacing:0.35px">980</text>
<text transform="translate(110.22,510.50) scale(0.92,1)" font-size="9.4" text-anchor="middle" style="fill:#000;stroke:#000;stroke-width:0.3px;letter-spacing:0.35px">990</text>
<text transform="translate(148.94,510.50) scale(0.92,1)" font-size="9.4" text-anchor="middle" style="fill:#000;stroke:#000;stroke-width:0.3px;letter-spacing:0.35px">1<tspan dx="-1.31">0</tspan>00</text>
<text transform="translate(187.66,510.50) scale(0.92,1)" font-size="9.4" text-anchor="middle" style="fill:#000;stroke:#000;stroke-width:0.3px;letter-spacing:0.35px">1<tspan dx="-1.31">0</tspan><tspan dx="-0.54">1</tspan><tspan dx="-1.31">0</tspan></text>
<text transform="translate(226.38,510.50) scale(0.92,1)" font-size="9.4" text-anchor="middle" style="fill:#000;stroke:#000;stroke-width:0.3px;letter-spacing:0.35px">1<tspan dx="-1.31">0</tspan>20</text>
<text transform="translate(265.10,510.50) scale(0.92,1)" font-size="9.4" text-anchor="middle" style="fill:#000;stroke:#000;stroke-width:0.3px;letter-spacing:0.35px">1<tspan dx="-1.31">0</tspan>30</text>
<text transform="translate(303.82,510.50) scale(0.92,1)" font-size="9.4" text-anchor="middle" style="fill:#000;stroke:#000;stroke-width:0.3px;letter-spacing:0.35px">1<tspan dx="-1.31">0</tspan>40</text>
<text transform="translate(48.80,407.40) rotate(-90)" font-size="12.5" text-anchor="middle" style="fill:#000;stroke:#000;stroke-width:0.25px">counts</text>
<text transform="translate(168.00,524.40)" font-size="11.5" text-anchor="start" style="fill:#000;stroke:#000;stroke-width:0.25px">energy</text>
<text transform="translate(211.60,524.40)" font-size="11.5" text-anchor="start" style="fill:#000;stroke:#000;stroke-width:0.25px">(keV)</text>
<text transform="translate(270.20,338.60) scale(0.95,1)" font-size="7.8" text-anchor="start" style="fill:#000;stroke:#000;stroke-width:0.12px">experiment</text>
<text transform="translate(270.20,359.50) scale(0.95,1)" font-size="7.8" text-anchor="start" style="fill:#ff00ff;stroke:#ff00ff;stroke-width:0.12px">pile-up</text>
<text transform="translate(270.20,369.60) scale(0.95,1)" font-size="7.8" text-anchor="start" style="fill:#0000ff;stroke:#0000ff;stroke-width:0.12px">background</text>
<text transform="translate(270.20,349.20) scale(0.82,1)" font-size="7.8" text-anchor="start" style="fill:#ff0000;stroke:#ff0000;stroke-width:0.12px">1021.7</text>
<text transform="translate(294.30,349.20) scale(0.95,1)" font-size="7.8" text-anchor="start" style="fill:#ff0000;stroke:#ff0000;stroke-width:0.12px">keV</text>
<text transform="translate(309.80,349.20) scale(0.95,1)" font-size="7.8" text-anchor="start" style="fill:#ff0000;stroke:#ff0000;stroke-width:0.12px">peak</text>
</g>
</svg></body></html>
